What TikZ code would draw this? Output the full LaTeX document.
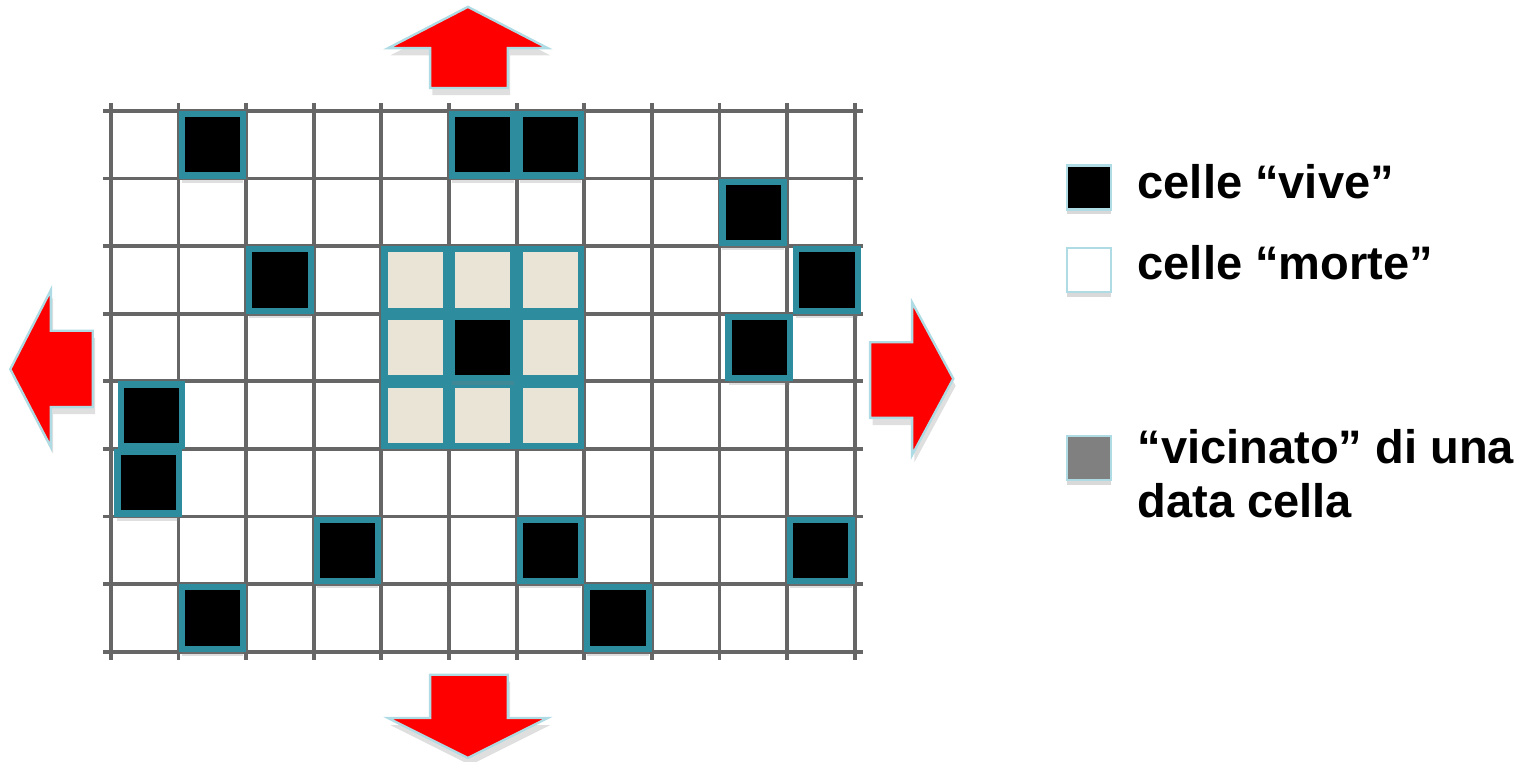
\documentclass[tikz,border=0pt]{standalone}
\usepackage{fontspec}
\setmainfont{Liberation Sans}
\usetikzlibrary{shadows}

\definecolor{cellteal}{RGB}{45,140,158}
\definecolor{nbbeige}{RGB}{234,228,214}
\definecolor{arrowred}{RGB}{255,0,0}
\definecolor{arrowrim}{RGB}{175,220,228}
\definecolor{leggray}{RGB}{128,128,128}

\begin{document}
\begin{tikzpicture}[x=1cm,y=-1cm,
    gridline/.style={black!60, line width=1.6pt},
    livecell/.style={fill=black, draw=cellteal, line width=2.6pt,
      drop shadow={shadow xshift=0pt, shadow yshift=-3pt, opacity=.25}},
    nbcell/.style={fill=nbbeige, draw=cellteal, line width=2.6pt},
    bigarrow/.style={fill=arrowred, draw=arrowrim, line width=1pt, line join=miter,
      drop shadow={shadow xshift=1pt, shadow yshift=-3pt, opacity=.25}},
    legbox/.style={draw=arrowrim, line width=1pt, minimum size=0.65cm, inner sep=0pt,
      drop shadow={shadow xshift=0pt, shadow yshift=-2pt, opacity=.3}},
    legtext/.style={anchor=base west, inner sep=0pt, font=\fontsize{19.8}{22.7}\selectfont\bfseries}]
  \useasboundingbox (-1.642,-1.642) rectangle (21.08,9.63);

  % the board
  \foreach \r in {0,...,8} {
    \draw[gridline] (-0.12,\r) -- (11.12,\r);
  }
  \foreach \c in {0,...,11} {
    \draw[gridline] (\c,-0.12) -- (\c,8.12);
  }

  % neighbourhood of the middle cell
  \foreach \c/\r in {4/2,5/2,6/2,4/3,6/3,4/4,5/4,6/4} {
    \draw[nbcell] (\c+0.045,\r+0.045) rectangle +(0.91,0.91);
  }

  % live cells
  \foreach \c/\r in {1/0,5/0,6/0,9/1,2/2,10.09/2,5/3,9.09/3,0.1/4,0.05/5,3/6,6/6,10/6,1/7,7/7} {
    \draw[livecell] (\c+0.045,\r+0.045) rectangle +(0.91,0.91);
  }

  % the board goes on in every direction
  \draw[bigarrow] (5.28,-1.54) -- (6.46,-0.93) -- (5.87,-0.93) -- (5.87,-0.34)
    -- (4.72,-0.34) -- (4.72,-0.93) -- (4.10,-0.93) -- cycle;
  \draw[bigarrow] (5.28,9.57) -- (6.46,8.98) -- (5.87,8.98) -- (5.87,8.34)
    -- (4.72,8.34) -- (4.72,8.98) -- (4.10,8.98) -- cycle;
  \draw[bigarrow] (-1.49,3.82) -- (-0.89,2.65) -- (-0.89,3.25) -- (-0.27,3.25)
    -- (-0.27,4.38) -- (-0.89,4.38) -- (-0.89,4.97) -- cycle;
  \draw[bigarrow] (12.46,3.96) -- (11.85,2.83) -- (11.85,3.42) -- (11.23,3.42)
    -- (11.23,4.54) -- (11.85,4.54) -- (11.85,5.09) -- cycle;

  % legend
  \node[legbox, fill=black] (kvive) at (14.47,1.13) {};
  \node[legbox, fill=white] (kmorte) at (14.47,2.35) {};
  \node[legbox, fill=leggray] (kvicin) at (14.47,5.13) {};
  \node[legtext] (tvive) at (15.18,1.30) {celle “vive”};
  \node[legtext] (tmorte) at (15.18,2.50) {celle “morte”};
  \node[legtext, align=left] (tvicin) at (15.18,6.01) {“vicinato” di una\\data cella};
\end{tikzpicture}
\end{document}
